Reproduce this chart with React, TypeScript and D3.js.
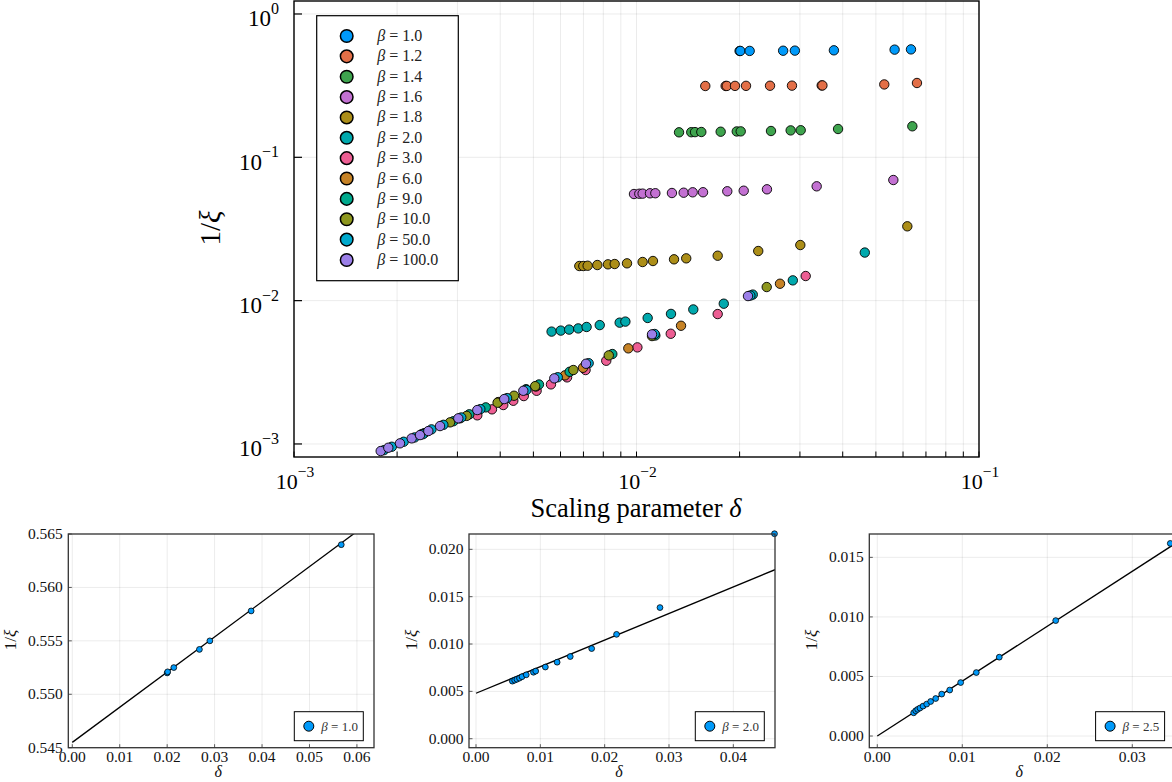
import React from 'react';
import * as d3 from 'd3';

const W = 1172;
const H = 782;
const FONT = "'Liberation Serif', 'DejaVu Serif', serif";

const betaLabels = ['1.0', '1.2', '1.4', '1.6', '1.8', '2.0', '3.0', '6.0', '9.0', '10.0', '50.0', '100.0'];
const colors = ['#009AFA', '#E36F47', '#3EA44E', '#C371D2', '#AC8E18', '#00A9AD', '#ED5E93', '#C68225', '#00A98D', '#8E971E', '#00A9CD', '#9B7FE8'];

// delta (x) and 1/xi (y) per beta
const d_b1_0 = [0.0200, 0.0201, 0.0214, 0.0268, 0.0290, 0.0377, 0.0567, 0.0633];
const y_b1_0 = [0.5520, 0.5521, 0.5525, 0.5542, 0.5550, 0.5578, 0.5640, 0.5663];
const d_b1_2 = [0.01588, 0.01821, 0.01835, 0.01939, 0.02088, 0.02454, 0.02844, 0.03473, 0.0349, 0.0529, 0.0659];
const y_b1_2 = [0.3145, 0.3147, 0.3148, 0.3150, 0.3152, 0.3157, 0.3162, 0.3172, 0.3173, 0.3225, 0.3300];
const d_b1_4 = [0.01331, 0.01445, 0.01482, 0.01546, 0.01761, 0.01962, 0.02015, 0.0247, 0.02819, 0.03016, 0.03877, 0.06388];
const y_b1_4 = [0.1494, 0.1497, 0.1499, 0.1502, 0.1509, 0.1515, 0.1517, 0.1526, 0.1541, 0.1545, 0.1576, 0.1646];
const d_b1_6 = [0.009833, 0.01019, 0.01042, 0.01095, 0.01135, 0.01269, 0.01373, 0.01459, 0.01564, 0.01841, 0.02056, 0.02404, 0.03358, 0.05622];
const y_b1_6 = [0.05544, 0.0557, 0.0558, 0.05609, 0.05615, 0.05636, 0.05663, 0.0570, 0.05705, 0.05793, 0.05848, 0.0598, 0.06275, 0.06944];
const d_b1_8 = [0.006808, 0.006993, 0.007201, 0.007685, 0.008255, 0.008636, 0.009382, 0.01042, 0.01117, 0.01287, 0.01397, 0.01726, 0.02267, 0.03008, 0.06176];
const y_b1_8 = [0.01744, 0.01744, 0.01752, 0.01772, 0.01792, 0.01801, 0.01821, 0.0186, 0.0189, 0.01942, 0.01973, 0.02058, 0.02219, 0.02443, 0.0330];
const d_b2_0 = [0.00565, 0.00601, 0.00636, 0.00676, 0.00715, 0.00781, 0.00893, 0.00928, 0.01078, 0.01261, 0.01465, 0.01798, 0.02185, 0.0286, 0.0464];
const y_b2_0 = [0.00608, 0.00618, 0.00628, 0.0064, 0.00655, 0.00675, 0.00702, 0.00714, 0.00757, 0.00808, 0.00868, 0.00952, 0.01102, 0.01385, 0.02165];
const d_b3_0 = [0.003429, 0.003785, 0.004083, 0.004368, 0.004687, 0.005109, 0.005627, 0.00627, 0.0071, 0.00816, 0.01006, 0.01259, 0.01726, 0.03119];
const y_b3_0 = [0.001584, 0.001744, 0.001869, 0.002002, 0.002159, 0.00235, 0.002605, 0.002915, 0.003279, 0.003807, 0.00472, 0.005875, 0.00806, 0.01485];
const d_b6_0 = [0.00305, 0.00395, 0.00509, 0.00618, 0.00698, 0.009465, 0.01349, 0.02624];
const y_b6_0 = [0.00151, 0.00196, 0.00252, 0.00301, 0.0034, 0.004646, 0.00668, 0.01312];
const d_b9_0 = [0.0024, 0.00292, 0.00325, 0.00363, 0.00476, 0.00519, 0.00638, 0.0085, 0.01135];
const y_b9_0 = [0.00119, 0.00144, 0.00161, 0.0018, 0.00241, 0.0026, 0.00319, 0.00424, 0.00571];
const d_b10_0 = [0.00236, 0.002855, 0.003193, 0.00393, 0.00439, 0.00506, 0.00654, 0.0083, 0.0111, 0.024];
const y_b10_0 = [0.00117, 0.001415, 0.00157, 0.00194, 0.00217, 0.00253, 0.00328, 0.00415, 0.00566, 0.01244];
const d_b50_0 = [0.00183, 0.00193, 0.00209, 0.00225, 0.00238, 0.00252, 0.00273, 0.00308, 0.0035, 0.00419, 0.00477, 0.00589, 0.00725, 0.0113, 0.0215];
const y_b50_0 = [0.000905, 0.000956, 0.001036, 0.00111, 0.00117, 0.001264, 0.00136, 0.00153, 0.00175, 0.00209, 0.00238, 0.00292, 0.00366, 0.00585, 0.01085];
const d_b100_0 = [0.001791, 0.001885, 0.002039, 0.002206, 0.002333, 0.002467, 0.002669, 0.003018, 0.003429, 0.00411, 0.004672, 0.005754, 0.00712, 0.0111, 0.02116];
const y_b100_0 = [0.000892, 0.000941, 0.00101, 0.001094, 0.001153, 0.00123, 0.001333, 0.001509, 0.001724, 0.002057, 0.00235, 0.002869, 0.003628, 0.005818, 0.01076];

const seriesD = [d_b1_0, d_b1_2, d_b1_4, d_b1_6, d_b1_8, d_b2_0, d_b3_0, d_b6_0, d_b9_0, d_b10_0, d_b50_0, d_b100_0];
const seriesY = [y_b1_0, y_b1_2, y_b1_4, y_b1_6, y_b1_8, y_b2_0, y_b3_0, y_b6_0, y_b9_0, y_b10_0, y_b50_0, y_b100_0];

// beta = 2.5 (only in third inset)
const d_b2_5 = [0.00428, 0.00452, 0.00475, 0.00502, 0.00538, 0.00581, 0.00628, 0.00687, 0.00758, 0.00852, 0.00981, 0.01165, 0.01435, 0.02099, 0.03447];
const y_b2_5 = [0.00195, 0.00212, 0.00224, 0.00235, 0.00251, 0.00268, 0.0029, 0.00315, 0.00352, 0.00386, 0.00449, 0.00533, 0.00662, 0.00969, 0.01617];

// main axes
const mainXMajor = [1e-3, 1e-2, 1e-1];
const mainXExp = ['\u22123', '\u22122', '\u22121'];
const mainYMajor = [1, 1e-1, 1e-2, 1e-3];
const mainYExp = ['0', '\u22121', '\u22122', '\u22123'];
const mainXLim = [1e-3, 1e-1];
const mainYLim = [0.000811, 1.232];

// inset fits (intercept, slope)
const fit1 = [0.5455, 0.329];
const fit2 = [0.0048, 0.2808];
const fit3 = [0.0, 0.461];

const grid = 'rgba(0,0,0,0.1)';

function Beta({ v }: { v: string }) {
  return (
    <>
      <tspan fontStyle="italic">β</tspan>
      <tspan> = {v}</tspan>
    </>
  );
}

type InsetProps = {
  id: string;
  frame: [number, number, number, number];
  xDom: [number, number];
  yDom: [number, number];
  xTicks: number[];
  yTicks: number[];
  xFmt: string;
  yFmt: string;
  d: number[];
  y: number[];
  fit: number[];
  label: string;
};

function Inset(p: InsetProps) {
  const [l, r, t, b] = p.frame;
  const x = d3.scaleLinear().domain(p.xDom).range([l, r]);
  const y = d3.scaleLinear().domain(p.yDom).range([b, t]);
  const fx = d3.format(p.xFmt);
  const fy = d3.format(p.yFmt);
  const lineGen = d3.line<number>().x((v) => x(v)).y((v) => y(p.fit[0] + p.fit[1] * v));
  const lineD = lineGen([0, p.xDom[1]]) || '';
  const tol = 3;
  const pts = p.d
    .map((dv, i) => [x(dv), y(p.y[i])])
    .filter(([px, py]) => px >= l - tol && px <= r + tol && py >= t - tol && py <= b + tol);
  const lgR = r - 10.7;
  const lgB = b - 7;
  const lgW = 69;
  const lgH = 29;
  return (
    <g>
      <defs>
        <clipPath id={p.id}>
          <rect x={l} y={t} width={r - l} height={b - t} />
        </clipPath>
      </defs>
      {p.xTicks.map((v) => (
        <line key={'gx' + v} x1={x(v)} x2={x(v)} y1={t} y2={b} stroke={grid} strokeWidth={0.8} />
      ))}
      {p.yTicks.map((v) => (
        <line key={'gy' + v} x1={l} x2={r} y1={y(v)} y2={y(v)} stroke={grid} strokeWidth={0.8} />
      ))}
      <path d={lineD} stroke="#000" strokeWidth={1.3} fill="none" clipPath={`url(#${p.id})`} />
      {pts.map(([px, py], i) => (
        <circle key={i} cx={px} cy={py} r={2.9} fill={colors[0]} stroke="#000" strokeWidth={0.8} />
      ))}
      <rect x={l} y={t} width={r - l} height={b - t} fill="none" stroke="#333" strokeWidth={1.3} />
      {p.xTicks.map((v) => (
        <line key={'tx' + v} x1={x(v)} x2={x(v)} y1={b} y2={b - 3.5} stroke="#333" strokeWidth={0.8} />
      ))}
      {p.yTicks.map((v) => (
        <line key={'ty' + v} x1={l} x2={l + 3.5} y1={y(v)} y2={y(v)} stroke="#333" strokeWidth={0.8} />
      ))}
      {p.xTicks.map((v) => (
        <text key={'lx' + v} x={x(v)} y={762} textAnchor="middle" fontSize={15.5} fontFamily={FONT} fill="#111">{fx(v)}</text>
      ))}
      {p.yTicks.map((v) => (
        <text key={'ly' + v} x={l - 5.5} y={y(v) + 5} textAnchor="end" fontSize={15.5} fontFamily={FONT} fill="#111">{fy(v)}</text>
      ))}
      <text x={(l + r) / 2 - 3} y={777} textAnchor="middle" fontSize={16} fontFamily={FONT} fontStyle="italic" fill="#111">δ</text>
      <text transform={`translate(${l - 52},${640}) rotate(-90)`} textAnchor="middle" fontSize={17} fontFamily={FONT} fill="#111">
        1/<tspan fontStyle="italic">ξ</tspan>
      </text>
      <rect x={lgR - lgW} y={lgB - lgH} width={lgW} height={lgH} fill="#fff" stroke="#000" strokeWidth={1} />
      <circle cx={lgR - lgW + 14.5} cy={lgB - lgH / 2} r={5} fill={colors[0]} stroke="#000" strokeWidth={1} />
      <text x={lgR - lgW + 27} y={lgB - lgH / 2 + 4.5} fontSize={13} fontFamily={FONT} fill="#333">
        <Beta v={p.label} />
      </text>
    </g>
  );
}

export default function App() {
  const L = 294, R = 979, T = 1, B = 457;
  const x = d3.scaleLog().domain(mainXLim).range([L, R]);
  const y = d3.scaleLog().domain(mainYLim).range([B, T]);
  const minorX: number[] = [];
  [1e-3, 1e-2].forEach((dec) => {
    for (let k = 2; k <= 9; k++) minorX.push(k * dec);
  });

  return (
    <div style={{ position: 'absolute', left: 0, top: 0 }}>
      <svg width={W} height={H} viewBox={`0 0 ${W} ${H}`} style={{ display: 'block', background: '#fff' }}>
        <rect x={0} y={0} width={W} height={H} fill="#fff" />
        {/* main grid */}
        {[...mainXMajor, ...minorX].map((v) => (
          <line key={'mgx' + v} x1={x(v)} x2={x(v)} y1={T} y2={B} stroke={grid} strokeWidth={0.8} />
        ))}
        {mainYMajor.map((v) => (
          <line key={'mgy' + v} x1={L} x2={R} y1={y(v)} y2={y(v)} stroke={grid} strokeWidth={0.8} />
        ))}
        {/* data */}
        {seriesD.map((ds, si) =>
          ds.map((dv, i) => (
            <circle key={si + '-' + i} cx={x(dv)} cy={y(seriesY[si][i])} r={4.7} fill={colors[si]} stroke="#000" strokeWidth={0.9} />
          ))
        )}
        {/* frame */}
        <rect x={L} y={T} width={R - L} height={B - T} fill="none" stroke="#000" strokeWidth={1.4} />
        {mainYMajor.map((v) => (
          <line key={'mty' + v} x1={L} x2={L + 8} y1={y(v)} y2={y(v)} stroke="#000" strokeWidth={1.2} />
        ))}
        {[...mainXMajor, ...minorX].map((v) => (
          <line key={'mtx' + v} x1={x(v)} x2={x(v)} y1={B} y2={B - 5.5} stroke="#000" strokeWidth={1} />
        ))}
        {/* tick labels */}
        {mainYMajor.map((v, i) => (
          <text key={'mly' + v} x={279} y={y(v) + 12.5} textAnchor="end" fontSize={23} fontFamily={FONT} fill="#000">
            10<tspan fontSize={16} dy={-12.5}>{mainYExp[i]}</tspan>
          </text>
        ))}
        {mainXMajor.map((v, i) => (
          <text key={'mlx' + v} x={x(v) + 1} y={488.5} textAnchor="middle" fontSize={22} fontFamily={FONT} fill="#000">
            10<tspan fontSize={15.5} dy={-12}>{mainXExp[i]}</tspan>
          </text>
        ))}
        {/* axis titles */}
        <text x={636} y={517} textAnchor="middle" fontSize={26.5} fontFamily={FONT} fill="#000">
          Scaling parameter <tspan fontStyle="italic">δ</tspan>
        </text>
        <text transform="translate(220,228) rotate(-90)" textAnchor="middle" fontSize={29} fontFamily={FONT} fill="#000">
          1/<tspan fontStyle="italic">ξ</tspan>
        </text>
        {/* legend */}
        <rect x={316.7} y={15.7} width={141.6} height={265} fill="#fff" stroke="#000" strokeWidth={1.2} />
        {betaLabels.map((lab, i) => (
          <g key={'lg' + lab}>
            <circle cx={346.7} cy={36 + 20.36 * i} r={6.3} fill={colors[i]} stroke="#000" strokeWidth={1.5} />
            <text x={377.3} y={36 + 20.36 * i + 5} fontSize={16} fontFamily={FONT} fill="#222">
              <Beta v={lab} />
            </text>
          </g>
        ))}
        {/* insets */}
        <Inset id="c1" frame={[68.3, 374, 534, 747.7]} xDom={[-0.00084, 0.0636]} yDom={[0.545, 0.565]}
          xTicks={[0, 0.01, 0.02, 0.03, 0.04, 0.05, 0.06]} yTicks={[0.545, 0.55, 0.555, 0.56, 0.565]}
          xFmt=".2f" yFmt=".3f" d={d_b1_0} y={y_b1_0} fit={fit1} label="1.0" />
        <Inset id="c2" frame={[469, 775, 534, 747.7]} xDom={[-0.00109, 0.04648]} yDom={[-0.00095, 0.02162]}
          xTicks={[0, 0.01, 0.02, 0.03, 0.04]} yTicks={[0, 0.005, 0.01, 0.015, 0.02]}
          xFmt=".2f" yFmt=".3f" d={d_b2_0} y={y_b2_0} fit={fit2} label="2.0" />
        <Inset id="c3" frame={[869.3, 1175.3, 534, 747.7]} xDom={[-0.00094, 0.03506]} yDom={[-0.00098, 0.01696]}
          xTicks={[0, 0.01, 0.02, 0.03]} yTicks={[0, 0.005, 0.01, 0.015]}
          xFmt=".2f" yFmt=".3f" d={d_b2_5} y={y_b2_5} fit={fit3} label="2.5" />
      </svg>
    </div>
  );
}
